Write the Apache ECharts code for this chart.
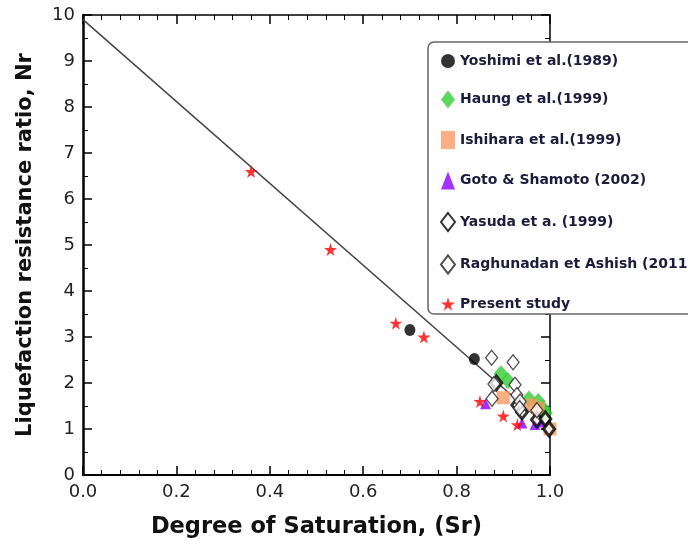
<!DOCTYPE html>
<html>
<head>
<meta charset="utf-8">
<script src="https://cdn.jsdelivr.net/npm/echarts@6/dist/echarts.min.js"></script>
<style>
  html, body { margin: 0; padding: 0; background: #fff; }
  #chart { width: 688px; height: 546px; }
</style>
</head>
<body>
<div id="chart"></div>
<script>
// x ticks / y ticks
const xTicks = [0, 0.2, 0.4, 0.6, 0.8, 1.0];
const yTicks = [0, 1, 2, 3, 4, 5, 6, 7, 8, 9, 10];

// trend line (Sr, Nr)
const trendLine = [[0, 9.9], [1.0, 1.0]];

// [Sr, Nr] pairs
const yoshimi = [[0.70, 3.15], [0.838, 2.52]];
const haung = [[0.895, 2.2], [0.91, 2.05], [0.955, 1.65], [0.975, 1.6], [0.985, 1.45], [0.99, 1.35]];
const ishihara = [[0.90, 1.68], [0.96, 1.52], [0.975, 1.45], [1.0, 1.0]];
const goto = [[0.862, 1.55], [0.94, 1.13], [0.968, 1.1], [0.98, 1.15]];
const yasuda = [[0.885, 2.0], [0.93, 1.52], [0.94, 1.37], [0.972, 1.2], [0.99, 1.22], [0.998, 1.0]];
const raghunadan = [[0.875, 2.55], [0.921, 2.45], [0.88, 1.98], [0.925, 1.96], [0.876, 1.66],
                    [0.929, 1.74], [0.936, 1.6], [0.935, 1.45], [0.972, 1.41]];
const present = [[0.36, 6.6], [0.53, 4.9], [0.67, 3.3], [0.73, 3.0], [0.85, 1.6], [0.90, 1.28], [0.93, 1.09]];

const legendNames = [
    'Yoshimi et al.(1989)',
    'Haung et al.(1999)',
    'Ishihara et al.(1999)',
    'Goto & Shamoto (2002)',
    'Yasuda et a. (1999)',
    'Raghunadan et Ashish (2011)',
    'Present study'
];

const star = 'path://M50,0 L61,35 L98,35 L68,57 L79,91 L50,70 L21,91 L32,57 L2,35 L39,35 Z';
const font = 'DejaVu Sans, sans-serif';

const chart = echarts.init(document.getElementById('chart'));

const tickAxis = (extra) => Object.assign({
    type: 'value',
    axisLine: { show: true, onZero: false, lineStyle: { color: '#000', width: 1.5 } },
    axisTick: { show: true, inside: true, length: 9, lineStyle: { color: '#000', width: 1.5 } },
    minorTick: { show: true, length: 5, lineStyle: { color: '#000', width: 1 } },
    splitLine: { show: false },
    minorSplitLine: { show: false }
}, extra);

const option = {
    animation: false,
    backgroundColor: '#fff',
    grid: { left: 83, right: 138, top: 15, bottom: 71 },
    xAxis: [
        tickAxis({
            position: 'bottom', min: xTicks[0], max: xTicks[xTicks.length - 1], interval: 0.2,
            minorTick: { show: true, splitNumber: 5, length: 5, lineStyle: { color: '#000', width: 1 } },
            axisLine: { show: true, onZero: false, lineStyle: { color: '#000', width: 2 } },
            axisLabel: { margin: 8, fontSize: 18, color: '#222', fontFamily: font, formatter: v => v.toFixed(1) },
            name: 'Degree of Saturation, (Sr)',
            nameLocation: 'middle',
            nameGap: 41,
            nameTextStyle: { fontSize: 22.5, fontWeight: 'bold', color: '#111', fontFamily: font }
        }),
        tickAxis({
            position: 'top', min: 0, max: 1, interval: 0.2,
            minorTick: { show: true, splitNumber: 5, length: 5, lineStyle: { color: '#000', width: 1 } },
            axisLabel: { show: false }
        })
    ],
    yAxis: [
        tickAxis({
            position: 'left', min: yTicks[0], max: yTicks[yTicks.length - 1], interval: 1,
            minorTick: { show: true, splitNumber: 2, length: 5, lineStyle: { color: '#000', width: 1 } },
            axisLine: { show: true, onZero: false, lineStyle: { color: '#000', width: 2.5 } },
            axisLabel: { margin: 8, fontSize: 18, color: '#222', fontFamily: font },
            name: 'Liquefaction resistance ratio, Nr',
            nameLocation: 'middle',
            nameGap: 47,
            nameTextStyle: { fontSize: 21, fontWeight: 'bold', color: '#111', fontFamily: font }
        }),
        tickAxis({
            position: 'right', min: 0, max: 10, interval: 1,
            minorTick: { show: true, splitNumber: 2, length: 5, lineStyle: { color: '#000', width: 1 } },
            axisLabel: { show: false }
        })
    ],
    legend: {
        data: legendNames,
        orient: 'vertical',
        left: 428,
        top: 42,
        itemWidth: 14,
        itemHeight: 18,
        itemGap: 22.5,
        padding: [12, 80, 3, 12],
        backgroundColor: '#fff',
        borderColor: '#666',
        borderWidth: 1.5,
        borderRadius: 6,
        textStyle: { fontSize: 14, fontWeight: 'bold', color: '#1c1c3c', fontFamily: font }
    },
    series: [
        {
            type: 'line', data: trendLine, symbol: 'none', silent: true,
            lineStyle: { color: '#444', width: 1.5 }, z: 1
        },
        {
            name: legendNames[0], type: 'scatter', data: yoshimi,
            symbol: 'circle', symbolSize: [11, 12],
            itemStyle: { color: '#000' }
        },
        {
            name: legendNames[1], type: 'scatter', data: haung,
            symbol: 'diamond', symbolSize: [15, 17],
            itemStyle: { color: '#33cc33' }
        },
        {
            name: legendNames[2], type: 'scatter', data: ishihara,
            symbol: 'rect', symbolSize: 13,
            itemStyle: { color: '#f99a63' }
        },
        {
            name: legendNames[3], type: 'scatter', data: goto,
            symbol: 'triangle', symbolSize: 11,
            itemStyle: { color: '#8800ff' }
        },
        {
            name: legendNames[4], type: 'scatter', data: yasuda,
            symbol: 'diamond', symbolSize: [11, 14],
            itemStyle: { color: '#fff', borderColor: '#000', borderWidth: 3 }
        },
        {
            name: legendNames[5], type: 'scatter', data: raghunadan,
            symbol: 'diamond', symbolSize: [12, 15],
            itemStyle: { color: '#fff', borderColor: '#222', borderWidth: 1.3 }
        },
        {
            name: legendNames[6], type: 'scatter', data: present,
            symbol: star, symbolSize: 13,
            itemStyle: { color: '#ff0000' }, z: 5
        }
    ]
};

chart.setOption(option);
</script>
</body>
</html>
